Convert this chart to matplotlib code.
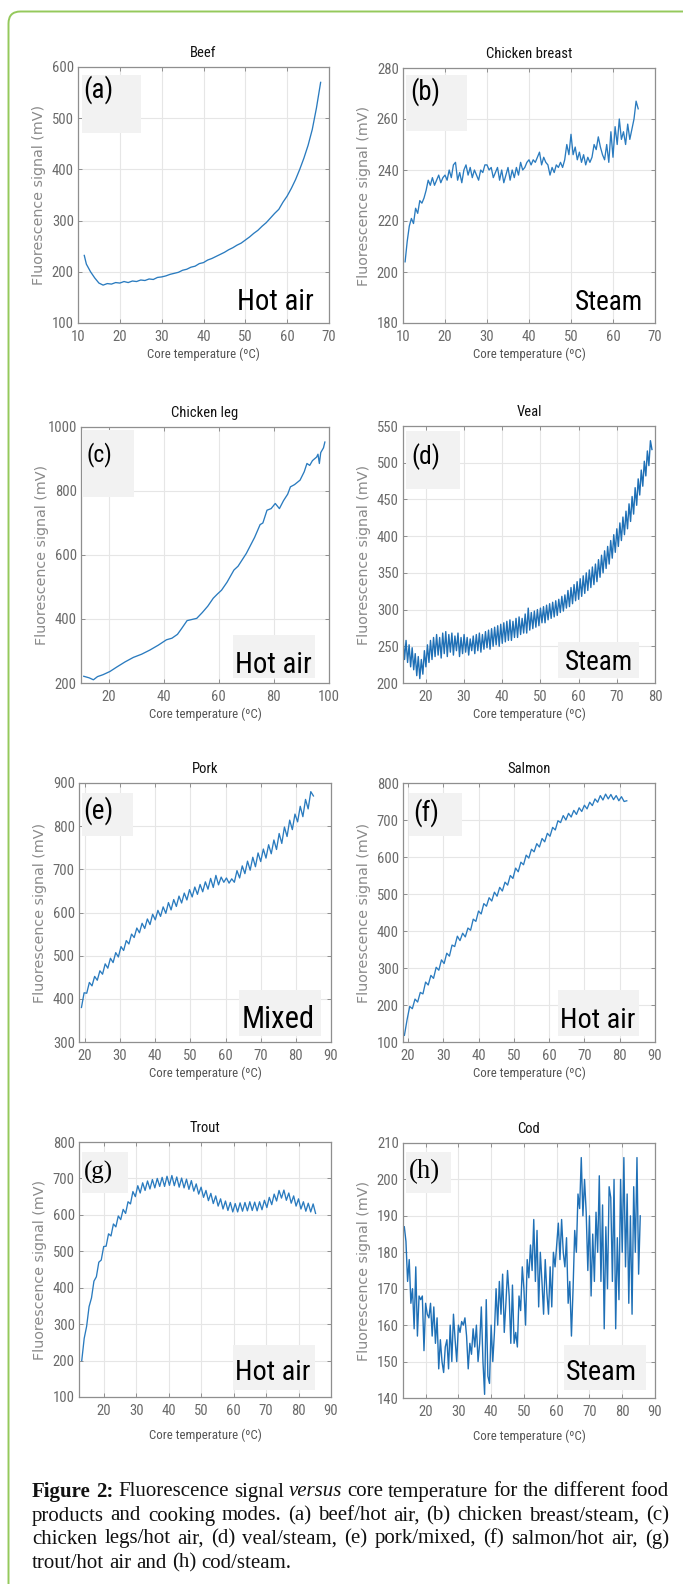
import numpy as np
import matplotlib
matplotlib.use('Agg')
import matplotlib.pyplot as plt
from matplotlib import font_manager
from matplotlib.patches import Rectangle, FancyBboxPatch
from matplotlib.transforms import IdentityTransform

# ---------------- DATA ----------------
titles = ['Beef', 'Chicken breast', 'Chicken leg', 'Veal', 'Pork', 'Salmon', 'Trout', 'Cod']
panel_tags = ['(a)', '(b)', '(c)', '(d)', '(e)', '(f)', '(g)', '(h)']
modes = ['Hot air', 'Steam', 'Hot air', 'Steam', 'Mixed', 'Hot air', 'Hot air', 'Steam']

beef_x = [11.5, 12, 13, 14, 15, 16, 17, 18, 19, 20, 21, 22, 23, 24, 25, 26, 27, 28, 29, 30,
          31, 32, 33, 34, 35, 36, 37, 38, 39, 40, 41, 42, 43, 44, 45, 46, 47, 48, 49, 50,
          51, 52, 53, 54, 55, 56, 57, 58, 59, 60, 61, 62, 63, 64, 65, 66, 67, 68]
beef_y = [232, 215, 200, 188, 178, 174, 177, 176, 179, 178, 181, 179, 182, 181, 184, 183, 186, 185, 189, 190,
          192, 195, 197, 199, 203, 205, 209, 211, 216, 218, 223, 226, 230, 234, 238, 243, 247, 252, 256, 262,
          268, 275, 281, 289, 296, 305, 314, 322, 336, 348, 363, 380, 400, 422, 447, 478, 520, 570]

breast_range = (10.5, 66.0)
breast_y = [204, 212, 218, 221, 219, 225, 223, 228, 227, 229, 232, 236, 234, 237, 234, 236, 238, 235, 237, 238,
            236, 240, 237, 242, 243, 236, 239, 235, 240, 242, 238, 241, 237, 240, 238, 236, 240, 239, 242, 242,
            240, 241, 237, 239, 241, 236, 240, 235, 238, 241, 236, 240, 237, 241, 238, 243, 240, 241, 243, 244,
            242, 244, 243, 245, 247, 242, 245, 243, 242, 238, 241, 239, 242, 241, 243, 241, 244, 250, 246, 254,
            246, 249, 244, 247, 243, 246, 242, 245, 243, 245, 250, 248, 253, 249, 246, 244, 250, 243, 255, 245,
            257, 250, 260, 252, 255, 250, 258, 252, 256, 260, 267, 264]

leg_x = [11, 13, 14.5, 16, 18, 20.5, 23, 26, 29, 32, 35, 38, 41, 43, 45, 46.5, 48.5, 50, 52, 54,
         56, 58, 59.5, 61, 63, 65.5, 67, 68.5, 70, 71.5, 73, 75, 76, 77.5, 79, 80.5, 82, 83.5, 85, 86,
         87.5, 89.5, 91, 92, 93, 94, 95.5, 96, 96.5, 97, 98, 98.5]
leg_y = [221, 216, 210, 220, 226, 236, 250, 266, 280, 290, 303, 318, 335, 340, 352, 370, 395, 398, 402, 420,
         440, 465, 478, 490, 515, 553, 565, 585, 605, 630, 655, 695, 700, 740, 745, 761, 745, 770, 790, 813,
         820, 834, 860, 886, 880, 895, 906, 915, 886, 920, 935, 953]

veal_range = (14.0, 79.2)
veal_y = [262, 232, 258, 228, 252, 222, 248, 218, 240, 210, 236, 206, 232, 212, 244, 222, 252, 228, 258, 232,
          262, 236, 266, 238, 262, 234, 268, 240, 270, 236, 266, 242, 268, 238, 264, 244, 268, 236, 262, 240,
          266, 242, 262, 238, 260, 244, 264, 240, 266, 244, 268, 242, 266, 246, 270, 248, 272, 246, 274, 250,
          276, 252, 278, 250, 280, 254, 282, 256, 284, 258, 286, 258, 284, 262, 288, 262, 290, 266, 288, 268,
          294, 268, 302, 272, 296, 274, 298, 276, 300, 278, 302, 282, 304, 282, 306, 286, 308, 288, 310, 290,
          312, 292, 314, 296, 318, 298, 320, 302, 326, 304, 330, 308, 334, 312, 338, 314, 342, 318, 346, 322,
          350, 326, 354, 330, 358, 334, 362, 338, 368, 344, 374, 350, 380, 356, 386, 362, 394, 370, 402, 378,
          410, 386, 418, 394, 426, 402, 434, 410, 444, 420, 454, 430, 466, 442, 478, 456, 490, 468, 502, 482,
          516, 496, 530, 518]

pork_range = (19.0, 85.0)
pork_y = [380, 414, 413, 438, 430, 452, 443, 465, 457, 481, 471, 494, 484, 507, 497, 521, 512, 535, 527, 550,
          542, 564, 553, 575, 563, 585, 572, 596, 583, 605, 591, 613, 598, 623, 606, 630, 614, 638, 622, 645,
          629, 653, 636, 659, 642, 665, 648, 671, 654, 679, 658, 686, 664, 682, 670, 680, 668, 678, 670, 697,
          680, 708, 690, 719, 698, 728, 706, 738, 718, 747, 726, 757, 736, 768, 746, 783, 760, 798, 776, 814,
          792, 828, 810, 846, 822, 862, 840, 880, 870]

salmon_range = (19.0, 82.0)
salmon_y = [118, 160, 196, 190, 216, 208, 234, 230, 262, 254, 280, 272, 302, 294, 322, 312, 340, 332, 362, 358,
            386, 374, 394, 384, 408, 402, 432, 426, 454, 446, 474, 467, 490, 481, 505, 494, 518, 508, 532, 524,
            550, 542, 570, 560, 586, 579, 605, 597, 621, 614, 636, 627, 650, 641, 664, 656, 680, 673, 698, 693,
            712, 700, 718, 708, 726, 715, 733, 723, 740, 730, 748, 739, 757, 748, 766, 754, 770, 757, 769, 755,
            766, 752, 763, 750, 752]

trout_range = (13.25, 85.25)
trout_y = [200, 261, 294, 348, 372, 418, 430, 470, 476, 513, 514, 548, 542, 575, 567, 597, 587, 615, 604, 636,
           630, 664, 650, 680, 660, 688, 667, 693, 671, 697, 674, 700, 678, 703, 678, 706, 681, 708, 680, 704,
           676, 701, 674, 698, 670, 694, 665, 685, 657, 676, 648, 667, 639, 659, 631, 652, 624, 644, 616, 638,
           612, 634, 608, 631, 608, 633, 610, 634, 611, 636, 612, 635, 611, 636, 614, 640, 620, 648, 628, 657,
           638, 667, 646, 668, 640, 660, 632, 652, 624, 644, 616, 636, 610, 632, 608, 630, 604]

cod_range = (13.5, 85.5)
cod_y = [187, 183, 172, 178, 166, 170, 159, 176, 157, 168, 167, 168, 153, 166, 163, 162, 166, 157, 165, 155,
         162, 148, 156, 150, 147, 154, 156, 148, 160, 150, 163, 156, 150, 160, 158, 161, 160, 162, 157, 148,
         155, 152, 159, 154, 160, 150, 155, 165, 150, 141, 167, 146, 144, 160, 150, 158, 170, 160, 172, 163,
         174, 158, 166, 175, 168, 155, 171, 155, 158, 154, 168, 164, 176, 170, 160, 178, 173, 182, 175, 189,
         172, 186, 165, 180, 172, 163, 178, 169, 163, 176, 165, 180, 176, 182, 188, 178, 189, 180, 176, 184,
         166, 172, 157, 170, 186, 180, 196, 192, 206, 190, 200, 191, 175, 190, 168, 185, 172, 191, 180, 201,
         172, 193, 159, 187, 170, 198, 195, 172, 200, 159, 184, 167, 200, 180, 206, 176, 196, 166, 190, 163,
         198, 180, 206, 174, 190]

x_limits = [(10, 70), (10, 70), (10, 100), (14, 80), (18.3, 90), (18.6, 90), (12.4, 90), (13.1, 90)]
y_limits = [(100, 600), (180, 280), (200, 1000), (200, 550), (300, 900), (100, 800), (100, 800), (140, 210)]
x_ticks = [list(range(10, 71, 10)), list(range(10, 71, 10)), list(range(20, 101, 20)), list(range(20, 81, 10)),
           list(range(20, 91, 10)), list(range(20, 91, 10)), list(range(20, 91, 10)), list(range(20, 91, 10))]
y_ticks = [list(range(100, 601, 100)), list(range(180, 281, 20)), list(range(200, 1001, 200)),
           list(range(200, 551, 50)), list(range(300, 901, 100)), list(range(100, 801, 100)),
           list(range(100, 801, 100)), list(range(140, 211, 10))]

caption_lines = [
    "Figure 2: Fluorescence signal versus core temperature for the different food",
    "products and cooking modes. (a) beef/hot air, (b) chicken breast/steam, (c)",
    "chicken legs/hot air, (d) veal/steam, (e) pork/mixed, (f) salmon/hot air, (g)",
    "trout/hot air and (h) cod/steam.",
]

# ---------------- LAYOUT ----------------
W, H = 683, 1584
fig = plt.figure(figsize=(W / 100, H / 100), dpi=100)
fig.patch.set_facecolor('white')
R = fig.canvas.get_renderer()

names = {f.name for f in font_manager.fontManager.ttflist}


def pick(cands):
    for c in cands:
        if c in names:
            return c
    return 'DejaVu Sans'


NARROW = pick(['Liberation Sans Narrow', 'Roboto Condensed', 'Open Sans Condensed', 'Roboto', 'Liberation Sans'])
SERIF = pick(['Liberation Serif', 'DejaVu Serif'])

axes_px = [(78, 67, 329, 323), (403, 68, 655, 323),
           (81, 427, 329, 683), (403, 426, 655, 683),
           (79, 783, 331, 1042), (403, 783, 655, 1042),
           (79, 1142, 331, 1397), (403, 1143, 655, 1398)]
xlabel_off = [31, 31, 31, 31, 31, 31, 38, 38]
tag_box = [(82, 75, 141, 133), (406, 75, 467, 131), (82, 430, 134, 497), (406, 431, 460, 489),
           (82, 793, 133, 836), (409, 793, 462, 836), (82, 1152, 128, 1193), (406, 1152, 451, 1193)]
tag_txt = [(83, 113, 90), (410, 440, 92), (87, 113, 455), (411, 440, 457),
           (83, 113, 811), (413, 439, 813), (84, 113, 1172), (409, 440, 1172)]
mode_box = [None, None, (233, 635, 315, 678), (558, 642, 639, 678),
            (239, 990, 321, 1036), (558, 990, 639, 1036), (233, 1345, 315, 1390), (564, 1345, 646, 1390)]
mode_txt = [(237, 313, 302), (575, 643, 303), (235, 311, 665), (565, 633, 663),
            (242, 315, 1020), (560, 635, 1020), (235, 310, 1372), (566, 637, 1372)]

LINE_C = '#2a7bbf'


def fx(x):
    return x / W


def fy(y):
    return 1 - y / H


def fit_width(t, target):
    bb = t.get_window_extent(R)
    if bb.width > 0:
        t.set_fontsize(t.get_fontsize() * target / bb.width)


def fit_height(t, target):
    bb = t.get_window_extent(R)
    if bb.height > 0:
        t.set_fontsize(t.get_fontsize() * target / bb.height)


# green page frame
frame = FancyBboxPatch((8.5, -40), W + 60, H - 11.5 + 40, boxstyle='round,pad=0,rounding_size=12',
                       transform=IdentityTransform(), fill=False, edgecolor='#95c95c', linewidth=1.4)
fig.patches.append(frame)

series = [
    (beef_x, beef_y),
    (np.linspace(*breast_range, len(breast_y)), breast_y),
    (leg_x, leg_y),
    (np.linspace(*veal_range, len(veal_y)), veal_y),
    (np.linspace(*pork_range, len(pork_y)), pork_y),
    (np.linspace(*salmon_range, len(salmon_y)), salmon_y),
    (np.linspace(*trout_range, len(trout_y)), trout_y),
    (np.linspace(*cod_range, len(cod_y)), cod_y),
]

for i in range(8):
    l, t, r, b = axes_px[i]
    ax = fig.add_axes([fx(l), fy(b), (r - l) / W, (b - t) / H])
    aw, ah = r - l, b - t
    xs, ys = series[i]
    lw = 1.0 if i in (3, 7) else 0.95
    col = '#1f70b6' if i in (3, 7) else LINE_C
    ax.plot(xs, ys, color=col, lw=lw, zorder=2)
    ax.set_xlim(*x_limits[i])
    ax.set_ylim(*y_limits[i])
    ax.set_xticks(x_ticks[i])
    ax.set_yticks(y_ticks[i])
    ax.grid(True, color='#e6e6e6', lw=0.8)
    ax.set_axisbelow(True)
    for s in ax.spines.values():
        s.set_color('#8f8f8f')
        s.set_linewidth(0.9)
    ax.tick_params(direction='in', length=3, width=0.7, top=True, right=True, color='#8f8f8f',
                   labelcolor='#6a6a6a', labelsize=10.5)
    ax.tick_params(axis='x', pad=5)
    ax.tick_params(axis='y', pad=3)
    for lab in ax.get_xticklabels() + ax.get_yticklabels():
        lab.set_fontfamily(NARROW)
    # title
    ax.text(0.5, 1 + 14 / ah, titles[i], transform=ax.transAxes, ha='center', va='center',
            fontsize=10.5, family=NARROW, color='#111111')
    # axis labels
    yl = ax.set_ylabel('Fluorescence signal (mV)', color='#8a8a8a', fontsize=9, family='DejaVu Sans')
    ax.yaxis.set_label_coords(-32 / aw, 0.5)
    fit_height(yl, 180)
    xl = ax.set_xlabel('Core temperature (ºC)', color='#555555', fontsize=9, family=NARROW, va='center')
    ax.xaxis.set_label_coords(0.5, -xlabel_off[i] / ah)
    fit_width(xl, 112)
    # tag box
    bl, bt, br, bb_ = tag_box[i]
    fig.patches.append(Rectangle((fx(bl), fy(bb_)), (br - bl) / W, (bb_ - bt) / H, transform=fig.transFigure,
                                 facecolor='#f2f2f2', edgecolor='none', zorder=3))
    tl, tr, ty = tag_txt[i]
    fam = SERIF if i >= 6 else NARROW
    tt = fig.text(fx(tl), fy(ty), panel_tags[i], ha='left', va='center', fontsize=20, family=fam,
                  color='black', zorder=5)
    fit_width(tt, tr - tl)
    # mode box and text
    if mode_box[i] is not None:
        ml, mt, mr, mb = mode_box[i]
        fig.patches.append(Rectangle((fx(ml), fy(mb)), (mr - ml) / W, (mb - mt) / H,
                                     transform=fig.transFigure, facecolor='#f2f2f2', edgecolor='none',
                                     zorder=3))
    al, ar, ay = mode_txt[i]
    mtxt = fig.text(fx((al + ar) / 2), fy(ay), modes[i], ha='center', va='center', fontsize=20,
                    family=NARROW, color='black', zorder=5)
    fit_width(mtxt, ar - al)

# ---------------- CAPTION ----------------
CAP_L, CAP_R = 32, 669
cap_y = [1492, 1516, 1539, 1563]


def tokens_for(line):
    out = []
    for w in line.split(' '):
        wt = 'normal'
        st = 'normal'
        if line.startswith('Figure 2') and w in ('Figure', '2:'):
            wt = 'bold'
        if w == 'versus':
            st = 'italic'
        out.append((w, wt, st))
    return out


cap_fs = 13.0
probe = fig.text(0, 0, caption_lines[2], fontsize=cap_fs, family=SERIF)
nat = probe.get_window_extent(R).width
probe.remove()
cap_fs = cap_fs * (CAP_R - CAP_L) * 0.965 / nat

for li, line in enumerate(caption_lines):
    toks = tokens_for(line)
    arts, widths = [], []
    for s, wt, st in toks:
        a = fig.text(0, 0, s, fontsize=cap_fs, family=SERIF, weight=wt, style=st, ha='left', va='center',
                     color='#111111')
        arts.append(a)
        widths.append(a.get_window_extent(R).width)
    if li < len(caption_lines) - 1:
        gap = (CAP_R - CAP_L - sum(widths)) / (len(arts) - 1)
    else:
        gap = cap_fs * 100 / 72 * 0.25
    x = CAP_L
    for a, w in zip(arts, widths):
        a.set_position((fx(x), fy(cap_y[li])))
        x += w + gap

fig.savefig('out.png', dpi=100, facecolor='white')
